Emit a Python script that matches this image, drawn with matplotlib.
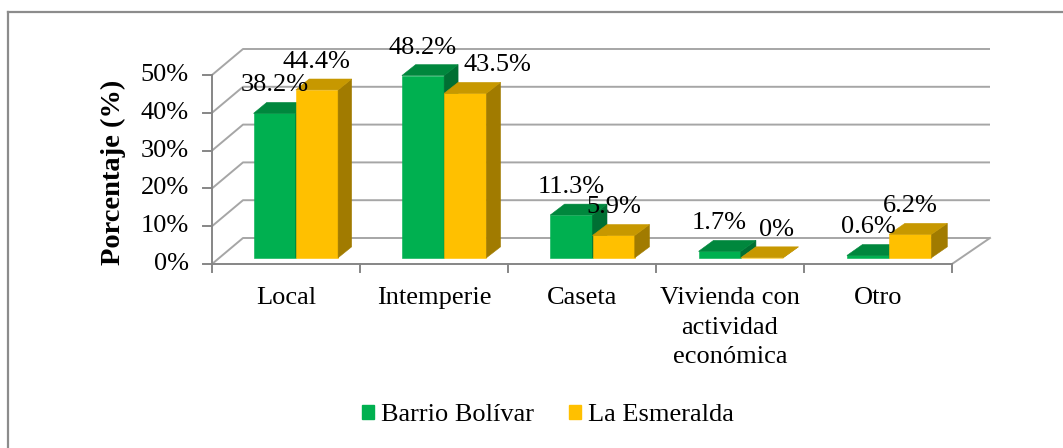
import matplotlib
matplotlib.use("Agg")
import matplotlib.pyplot as plt
from matplotlib.patches import Polygon, Patch
from matplotlib.lines import Line2D

plt.rcParams['font.family'] = ['Liberation Serif', 'DejaVu Serif']

# data
categories = ["Local", "Intemperie", "Caseta", "Vivienda con\nactividad\neconómica", "Otro"]
series_names = ["Barrio Bolívar", "La Esmeralda"]
barrio_bolivar = [38.2, 48.2, 11.3, 1.7, 0.6]
la_esmeralda = [44.4, 43.5, 5.9, 0.0, 6.2]
y_ticks = [0, 10, 20, 30, 40, 50]

# styling
front_cols = ["#00B050", "#FFC000"]
top_cols = ["#00873D", "#C79800"]
side_cols = ["#006F33", "#A17B00"]
grid_col = "#A6A6A6"
axis_col = "#868686"
FS = 19

W, H = 1063, 448
X0, CW = 212.0, 148.0      # px of first category edge, px per category
Y0, PPU = 264.0, 3.78      # px of 0 %, px per percent
DY = 26.0 / PPU            # depth rise in percent units
D0, D1 = 0.24, 0.66        # bar depth range (fraction of floor depth)


def dxc(x):
    # depth shift in category units (slight perspective)
    return (31.0 + 7.0 * x / 5.0) / CW


def proj(x, v, d):
    return (x + d * dxc(x), v + d * DY)


fig = plt.figure(figsize=(W / 100, H / 100), dpi=100)
ax = fig.add_axes([0, 0, 1, 1])
ax.set_xlim(-X0 / CW, (W - X0) / CW)
ax.set_ylim((Y0 - H) / PPU, Y0 / PPU)
ax.axis("off")

n = len(categories)

# walls: side-wall diagonals and back-wall gridlines
for v in y_ticks:
    a = proj(0, v, 0)
    b = proj(0, v, 1)
    c = proj(n, v, 1)
    ax.plot([a[0], b[0], c[0]], [a[1], b[1], c[1]], color=grid_col, lw=1.4,
            zorder=1, solid_capstyle="butt")
# floor right edge
a = proj(n, 0, 0)
b = proj(n, 0, 1)
ax.plot([a[0], b[0]], [a[1], b[1]], color=grid_col, lw=1.4, zorder=1)

# axes
ax.plot([0, 0], [0, y_ticks[-1]], color=axis_col, lw=1.4, zorder=3)
ax.plot([0, n], [0, 0], color=axis_col, lw=1.4, zorder=3)
for v in y_ticks:
    ax.plot([-9 / CW, 0], [v, v], color=axis_col, lw=1.4, zorder=3)
    ax.text(-23 / CW, v, f"{v}%", ha="right", va="center", fontsize=FS)
for i in range(n + 1):
    ax.plot([i, i], [0, -8 / PPU], color=axis_col, lw=1.4, zorder=3)
for i, lab in enumerate(categories):
    ax.text(i + 0.5, -23 / PPU, lab, ha="center", va="top", fontsize=FS,
            linespacing=1.45)

# bars
bw = 0.285
label_nudge = {(1, 1): 0.22, (3, 1): 0.10}
for i in range(n):
    for s, vals in enumerate([barrio_bolivar, la_esmeralda]):
        v = vals[i]
        xl = i + 0.23 + s * bw
        xr = xl + bw
        z = 5 + i * 3 + s
        front = [proj(xl, 0, D0), proj(xr, 0, D0), proj(xr, v, D0), proj(xl, v, D0)]
        top = [proj(xl, v, D0), proj(xr, v, D0), proj(xr, v, D1), proj(xl, v, D1)]
        side = [proj(xr, 0, D0), proj(xr, 0, D1), proj(xr, v, D1), proj(xr, v, D0)]
        for poly, col in ((front, front_cols[s]), (side, side_cols[s]), (top, top_cols[s])):
            ax.add_patch(Polygon(poly, closed=True, facecolor=col, edgecolor=col,
                                 lw=0.4, zorder=z))
        cx = (xl + xr) / 2 + D0 * dxc(xl) + label_nudge.get((i, s), 0)
        lbl = f"{v:g}%" if v != 0 else "0%"
        ax.text(cx, v + D0 * DY + 28 / PPU, lbl, ha="center", va="center",
                fontsize=FS, zorder=50)

# y label
fig.text(113 / W, 1 - 172 / H, "Porcentaje (%)", rotation=90, ha="center",
         va="center", fontsize=20.5, fontweight="bold")

# legend
handles = [Patch(facecolor=c, edgecolor=c) for c in front_cols]
fig.legend(handles, series_names, loc="center", bbox_to_anchor=(548 / W, 1 - 415 / H),
           ncol=2, frameon=False, fontsize=FS, handlelength=0.45, handleheight=0.45,
           handletextpad=0.27, columnspacing=1.3, borderpad=0)

# outer frame (top and left visible)
fig.add_artist(Line2D([8 / W, 1], [1 - 12.5 / H, 1 - 12.5 / H], color="#8C8C8C", lw=1.6))
fig.add_artist(Line2D([8 / W, 8 / W], [0, 1 - 12.5 / H], color="#8C8C8C", lw=1.6))

fig.savefig("out.png", dpi=100)
